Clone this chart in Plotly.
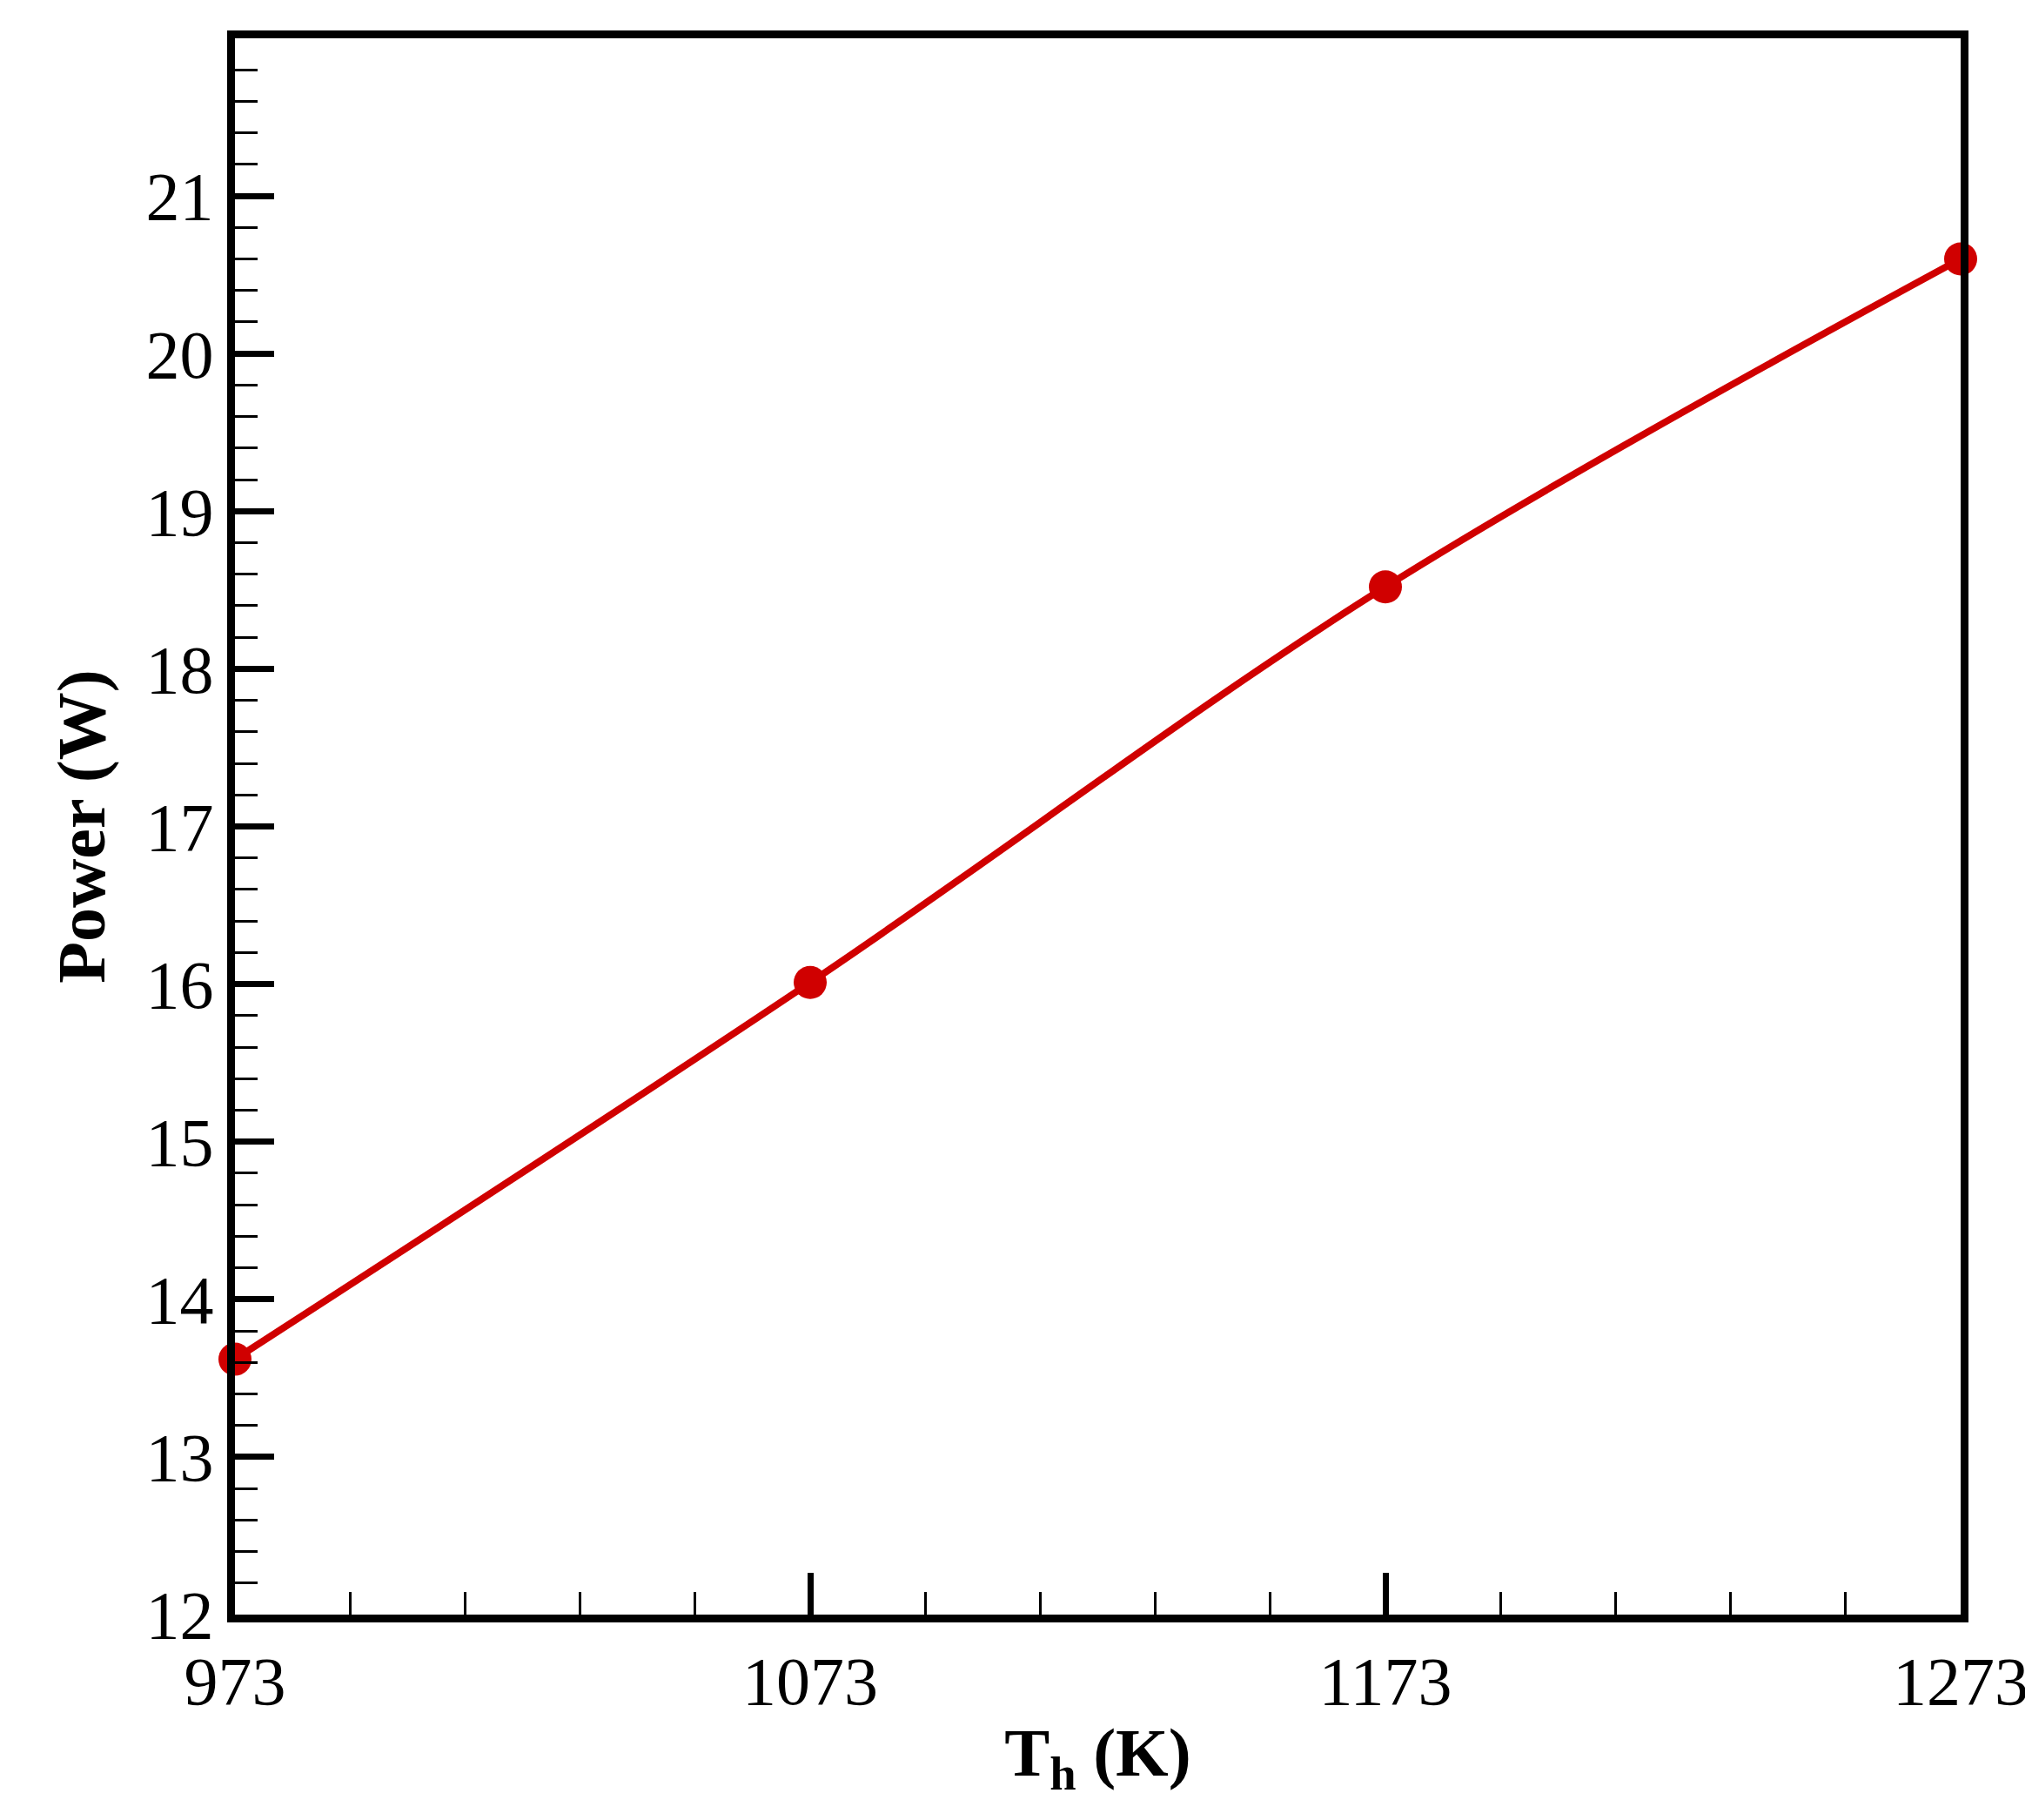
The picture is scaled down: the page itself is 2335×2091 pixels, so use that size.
import plotly.graph_objects as go

temps = [973, 1073, 1173, 1273]
power = [13.62, 16.01, 18.52, 20.60]
x_ticks = [973, 1073, 1173, 1273]
y_ticks = list(range(12, 23))

fig = go.Figure(go.Scatter(
    x=temps, y=power, mode="lines+markers",
    line=dict(color="#d00000", width=8, shape="spline"),
    marker=dict(color="#d00000", size=38),
    cliponaxis=False,
))
font = dict(family="Liberation Serif", size=78, color="black")
fig.update_layout(
    width=2335, height=2091, plot_bgcolor="white", paper_bgcolor="white",
    margin=dict(l=262, r=90, t=36, b=244), showlegend=False, font=font,
)
fig.update_xaxes(
    range=[973, 1273], tickvals=x_ticks, ticktext=[str(t) for t in x_ticks],
    ticks="inside", ticklen=48, tickwidth=7, tickcolor="black",
    minor=dict(dtick=20, tick0=973, ticks="inside", ticklen=26, tickwidth=3, tickcolor="black"),
    showline=True, linewidth=9, linecolor="black", mirror=True, showgrid=False, zeroline=False,
    title=dict(text="<b>T<sub>h</sub> (K)</b>", font=font, standoff=15),
)
fig.update_yaxes(
    range=[12, 22], tickvals=y_ticks,
    ticks="inside", ticklen=45, tickwidth=7, tickcolor="black",
    minor=dict(dtick=0.2, ticks="inside", ticklen=26, tickwidth=3, tickcolor="black"),
    showline=True, linewidth=9, linecolor="black", mirror=True, showgrid=False, zeroline=False,
    title=dict(text="<b>Power (W)</b>", font=font, standoff=25),
)
fig.write_html("out.html")
